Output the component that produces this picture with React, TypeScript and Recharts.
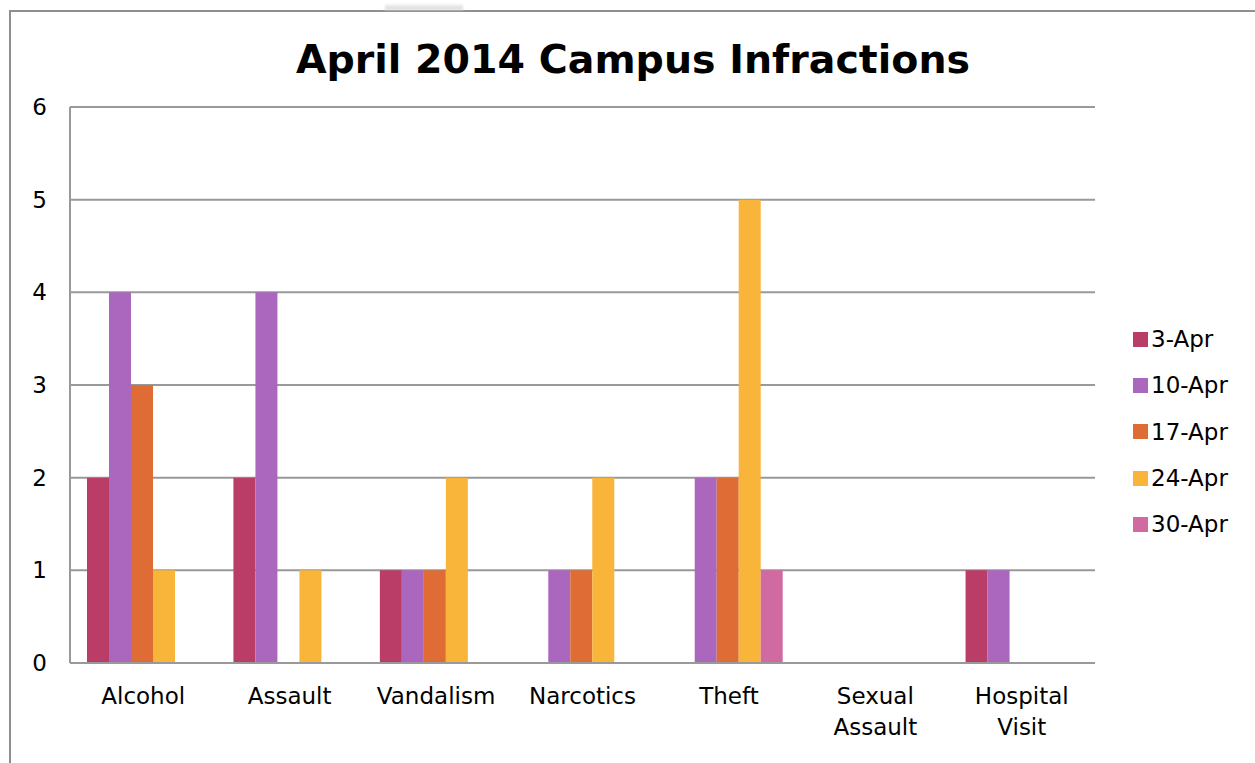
import { BarChart, Bar, XAxis, YAxis, CartesianGrid, Legend } from 'recharts';

const categories = ['Alcohol', 'Assault', 'Vandalism', 'Narcotics', 'Theft', 'Sexual Assault', 'Hospital Visit'];
const seriesNames = ['3-Apr', '10-Apr', '17-Apr', '24-Apr', '30-Apr'];
const apr3 = [2, 2, 1, 0, 0, 0, 1];
const apr10 = [4, 4, 1, 1, 2, 0, 1];
const apr17 = [3, 0, 1, 1, 2, 0, 0];
const apr24 = [1, 1, 2, 2, 5, 0, 0];
const apr30 = [0, 0, 0, 0, 1, 0, 0];
const yTicks = [0, 1, 2, 3, 4, 5, 6];

const colors = ['#b93d67', '#ab67bd', '#df6b35', '#f9b43a', '#d06aa0'];
const seriesValues = [apr3, apr10, apr17, apr24, apr30];

const data = categories.map((name, i) => {
    const row: Record<string, string | number> = { name };
    seriesNames.forEach((s, j) => {
        row[s] = seriesValues[j][i];
    });
    return row;
});

const FONT = '"DejaVu Sans", sans-serif';

function XTick(props: any) {
    const { x, y, payload } = props;
    const lines = String(payload.value).split(' ');
    return (
        <text x={x} y={y + 33} textAnchor="middle" fontSize={23} fill="#000" fontFamily={FONT}>
            {lines.map((l, i) => (
                <tspan key={i} x={x} dy={i === 0 ? 0 : 31}>
                    {l}
                </tspan>
            ))}
        </text>
    );
}

function YTick(props: any) {
    const { y, payload } = props;
    return (
        <text x={47} y={y + 8} textAnchor="end" fontSize={23} fill="#000" fontFamily={FONT}>
            {payload.value}
        </text>
    );
}

function LegendContent() {
    return (
        <div style={{ fontFamily: FONT, fontSize: 23, color: '#000' }}>
            {seriesNames.map((s, i) => (
                <div key={s} style={{ display: 'flex', alignItems: 'center', height: 46.3 }}>
                    <span
                        style={{
                            display: 'inline-block',
                            width: 15,
                            height: 15,
                            background: colors[i],
                            marginRight: 3,
                        }}
                    />
                    <span>{s}</span>
                </div>
            ))}
        </div>
    );
}

export default function App() {
    return (
        <div style={{ position: 'absolute', left: 0, top: 0, width: 1255, height: 763, background: '#fff' }}>
            <div
                style={{
                    position: 'absolute',
                    left: 9,
                    top: 10,
                    width: 1246,
                    height: 753,
                    borderTop: '2px solid #8f8f8f',
                    borderLeft: '2px solid #8f8f8f',
                }}
            />
            <div
                style={{
                    position: 'absolute',
                    left: 385,
                    top: 4,
                    width: 78,
                    height: 6,
                    background: 'linear-gradient(#f4f4f4, #d8d8d8)',
                    filter: 'blur(1px)',
                }}
            />
            <div
                style={{
                    position: 'absolute',
                    left: 0,
                    top: 36,
                    width: 1266,
                    textAlign: 'center',
                    fontFamily: FONT,
                    fontWeight: 'bold',
                    fontSize: 39.5,
                    color: '#000',
                }}
            >
                April 2014 Campus Infractions
            </div>
            <div style={{ position: 'absolute', left: 0, top: 0 }}>
                <BarChart
                    width={1255}
                    height={763}
                    data={data}
                    margin={{ top: 107, right: 160, bottom: 0, left: 0 }}
                    barCategoryGap={17}
                    barGap={0}
                >
                    <CartesianGrid vertical={false} stroke="#999" strokeWidth={2} />
                    <XAxis
                        dataKey="name"
                        tick={<XTick />}
                        tickLine={false}
                        axisLine={{ stroke: '#999', strokeWidth: 2 }}
                        interval={0}
                        height={100}
                    />
                    <YAxis
                        width={70}
                        domain={[0, 6]}
                        ticks={yTicks}
                        tick={<YTick />}
                        tickLine={false}
                        axisLine={{ stroke: '#999', strokeWidth: 2 }}
                        interval={0}
                    />
                    <Legend
                        layout="vertical"
                        align="center"
                        verticalAlign="middle"
                        content={<LegendContent />}
                        wrapperStyle={{ position: 'absolute', left: 1133, top: 316, width: 120 }}
                    />
                    {seriesNames.map((s, i) => (
                        <Bar key={s} dataKey={s} fill={colors[i]} isAnimationActive={false} />
                    ))}
                </BarChart>
            </div>
        </div>
    );
}
